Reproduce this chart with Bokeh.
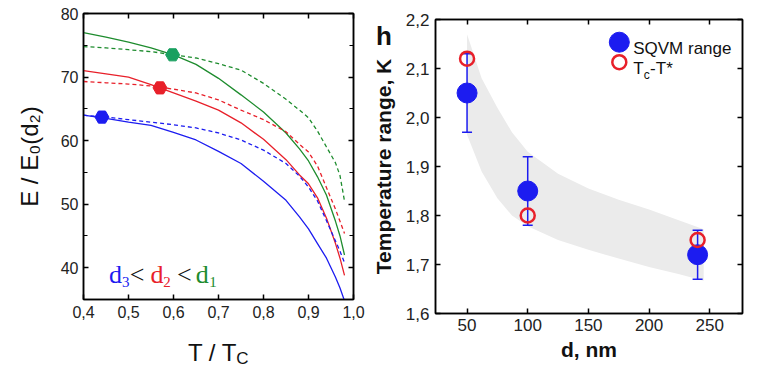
import numpy as np
from bokeh.plotting import figure
from bokeh.models import (Range1d, LinearAxis, FixedTicker, CustomJSTickFormatter, Label)
from bokeh.layouts import row, column
from bokeh.embed import file_html
from bokeh.resources import INLINE
from bokeh.core.properties import value

# ---------------- left panel data ----------------
t_ratio = [0.40, 0.45, 0.50, 0.55, 0.60, 0.65, 0.70, 0.75, 0.80, 0.85, 0.88, 0.90, 0.92, 0.94, 0.96, 0.97, 0.98]
e_d1_solid = [77.0, 76.3, 75.5, 74.6, 73.5, 72.0, 69.8, 67.2, 64.5, 61.2, 58.7, 56.8, 54.3, 51.4, 47.3, 45.0, 42.0]
e_d1_dash = [74.8, 74.6, 74.3, 74.0, 73.5, 73.0, 72.1, 71.1, 69.0, 66.5, 64.8, 63.6, 61.5, 59.0, 56.5, 54.5, 50.5]
e_d2_solid = [71.0, 70.5, 70.0, 68.8, 67.5, 66.2, 64.8, 62.8, 60.2, 57.0, 54.6, 53.2, 51.0, 47.8, 43.8, 41.5, 38.8]
e_d2_dash = [69.3, 69.1, 68.9, 68.6, 68.1, 67.5, 66.4, 64.8, 63.3, 61.4, 59.4, 58.2, 56.0, 52.6, 49.2, 47.3, 45.4]
e_d3_solid = [64.0, 63.5, 62.9, 62.4, 61.3, 60.1, 58.3, 56.4, 53.6, 50.6, 48.0, 46.1, 43.8, 41.5, 38.5, 36.8, 34.8]
e_d3_dash = [64.0, 63.7, 63.3, 62.9, 62.5, 62.0, 61.2, 60.1, 58.5, 56.4, 54.4, 52.7, 50.5, 47.4, 44.2, 42.6, 40.8]
marker_t = [0.441, 0.570, 0.598]
marker_e = [63.7, 68.3, 73.5]

left_xticks = [0.4, 0.5, 0.6, 0.7, 0.8, 0.9, 1.0]
left_yticks = [40, 50, 60, 70, 80]
left_yminor = [35, 45, 55, 65, 75]

# ---------------- right panel data ----------------
d_nm = [50, 100, 240]
sqvm = [2.05, 1.85, 1.72]
sqvm_lo = [1.97, 1.78, 1.67]
sqvm_hi = [2.13, 1.92, 1.77]
tc_tstar = [2.12, 1.80, 1.75]
band_d = [50, 62, 75, 87, 100, 125, 150, 175, 200, 225, 245]
band_hi = [2.17, 2.08, 2.02, 1.97, 1.93, 1.885, 1.855, 1.832, 1.812, 1.79, 1.772]
band_lo = [1.965, 1.89, 1.835, 1.80, 1.778, 1.75, 1.73, 1.712, 1.695, 1.68, 1.667]

right_xticks = [50, 100, 150, 200, 250]
right_yticks = [1.6, 1.7, 1.8, 1.9, 2.0, 2.1, 2.2]

BLUE = "#1c1cf0"
RED = "#e8202a"
GREEN = "#1e8c2e"
GREEN_M = "#1aa060"
SANS = "Liberation Sans"
SERIF = "Liberation Serif"
INK = "#111111"


def comma_fmt():
    return CustomJSTickFormatter(code="return tick.toFixed(1).replace('.', ',');")


def style_axes(p, xticker, yticker, xfmt, yfmt, label_size):
    bottom, left = p.below[0], p.left[0]
    for ax in (bottom, left):
        ax.major_tick_in = 5
        ax.major_tick_out = 0
        ax.minor_tick_in = 4
        ax.minor_tick_out = 0
        ax.axis_line_width = 1.5
        ax.major_tick_line_width = 1.5
        ax.major_label_text_font = SANS
        ax.major_label_text_font_size = label_size
        ax.major_label_text_color = "#222222"
        ax.axis_label_text_font = SANS
        ax.axis_label_text_color = INK
    bottom.ticker = xticker
    left.ticker = yticker
    if xfmt is not None:
        bottom.formatter = xfmt
    if yfmt is not None:
        left.formatter = yfmt
    for place, tk in (("above", xticker), ("right", yticker)):
        ax = LinearAxis(ticker=tk, formatter=CustomJSTickFormatter(code="return '';"),
                        major_label_text_font_size="0px", major_label_standoff=0,
                        major_tick_in=5, major_tick_out=0, minor_tick_in=4, minor_tick_out=0,
                        axis_line_width=1.5, major_tick_line_width=1.5)
        p.add_layout(ax, place)
    p.xgrid.grid_line_color = None
    p.ygrid.grid_line_color = None
    p.outline_line_color = "black"
    p.outline_line_width = 1.5
    return bottom, left


# ================= LEFT =================
p1 = figure(width=368, height=370, output_backend="svg", toolbar_location=None,
            x_range=Range1d(0.4, 1.0), y_range=Range1d(35, 80),
            min_border_left=79, min_border_right=15, min_border_top=13, min_border_bottom=71)
b1, l1 = style_axes(p1, FixedTicker(ticks=left_xticks),
                    FixedTicker(ticks=left_yticks, minor_ticks=left_yminor),
                    comma_fmt(), None, "16px")
b1.major_label_standoff = 6
l1.major_label_standoff = 5
l1.axis_label = "E / E\u2080(d\u2082)"
l1.axis_label_text_font_size = "24px"
l1.axis_label_text_font_style = "normal"
l1.axis_label_standoff = 15


def L_px(px, py):
    return 0.4 + (px - 79) * 0.6 / 274, 80 - (py - 13) * 45 / 286


for ys, col in ((e_d1_solid, GREEN), (e_d2_solid, RED), (e_d3_solid, BLUE)):
    p1.line(t_ratio, ys, line_color=col, line_width=1.3)
for ys, col in ((e_d1_dash, GREEN), (e_d2_dash, RED), (e_d3_dash, BLUE)):
    p1.line(t_ratio, ys, line_color=col, line_width=1.3, line_dash="4 3")
p1.scatter(marker_t, marker_e, marker="hex", size=14, fill_color=[BLUE, RED, GREEN_M],
           line_color=[BLUE, RED, GREEN_M])

# d3 < d2 < d1 annotation
pieces = [("d", BLUE, 105, 274.3, "26px"), ("3", BLUE, 118, 281.5, "15px"),
          ("<", INK, 126, 274.3, "26px"),
          ("d", RED, 147, 274.3, "26px"), ("2", RED, 160, 281.5, "15px"),
          ("<", INK, 174, 274.3, "26px"),
          ("d", GREEN, 193, 274.3, "26px"), ("1", GREEN, 206.5, 281.5, "15px")]
for txt, col, px, py, fs in pieces:
    x, y = L_px(px, py)
    p1.text([x], [y], text=[txt], text_color=col, text_font=value(SERIF),
            text_font_size=fs, text_align="left", text_baseline="alphabetic")

# x-axis title T / T_C (side-panel labels so that they are not clipped)
x, y = L_px(185, 352)
p1.add_layout(Label(x=x, y=y, text="T / T", text_align="left", text_baseline="alphabetic",
                    text_font=SANS, text_font_size="24px", text_color=INK), "below")
x, y = L_px(234, 358)
p1.add_layout(Label(x=x, y=y, text="C", text_align="left", text_baseline="alphabetic",
                    text_font=SANS, text_font_size="17px", text_color=INK), "left")

# ================= RIGHT =================
p2 = figure(width=400, height=370, output_backend="svg", toolbar_location=None,
            x_range=Range1d(24, 277), y_range=Range1d(1.6, 2.2),
            min_border_left=65, min_border_right=26, min_border_top=19, min_border_bottom=57)
b2, l2 = style_axes(p2, FixedTicker(ticks=right_xticks), FixedTicker(ticks=right_yticks),
                    None, comma_fmt(), "17px")
b2.major_label_standoff = 5
l2.major_label_standoff = 6
b2.axis_label = "d, nm"
l2.axis_label = "Temperature range, K"
for ax in (b2, l2):
    ax.axis_label_text_font_style = "bold"
    ax.axis_label_text_font_size = "21px"
b2.axis_label_standoff = 4
l2.axis_label_standoff = 8


def R_px(px, py):
    return 24 + (px - 433) * 253 / 309, 2.2 - (py - 19) * 0.6 / 294


p2.varea(x=band_d, y1=band_lo, y2=band_hi, fill_color="#ebebeb")
p2.segment(x0=d_nm, y0=sqvm_lo, x1=d_nm, y1=sqvm_hi, line_color=BLUE, line_width=1.5)
p2.scatter(d_nm, sqvm_lo, marker="dash", size=10, line_color=BLUE, line_width=1.5)
p2.scatter(d_nm, sqvm_hi, marker="dash", size=10, line_color=BLUE, line_width=1.5)
p2.scatter(d_nm, sqvm, size=20, fill_color=BLUE, line_color=BLUE)
p2.scatter(d_nm, tc_tstar, size=14, fill_color=None, line_color=RED, line_width=2.5)

# legend
x, y = R_px(618, 41.7)
p2.scatter([x], [y], size=20, fill_color=BLUE, line_color=BLUE)
x, y = R_px(618, 61.7)
p2.scatter([x], [y], size=14, fill_color=None, line_color=RED, line_width=2.5)
for txt, px, py, fs in (("SQVM range", 632, 47.7, "17px"), ("T", 632, 67.7, "17px"),
                        ("c", 642.5, 74.0, "12px"), ("-T*", 649, 67.7, "17px")):
    x, y = R_px(px, py)
    p2.text([x], [y], text=[txt], text_color=INK, text_font=value(SANS),
            text_font_size=fs, text_align="left", text_baseline="alphabetic")

# panel letter (side-panel label so that it is not clipped)
x, y = R_px(373, 35)
p2.add_layout(Label(x=x, y=y, text="h", text_align="left", text_baseline="alphabetic",
                    text_font=SANS, text_font_style="bold", text_font_size="26px",
                    text_color=INK), "right")

layout = row(column(p1), column(p2))
open("out.html", "w").write(file_html(layout, INLINE))
